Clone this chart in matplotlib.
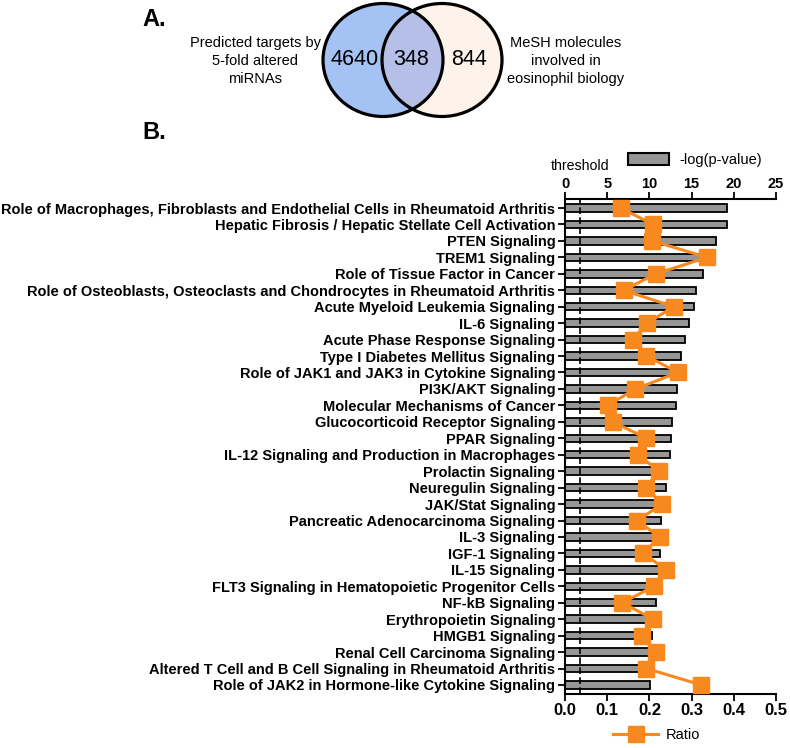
import matplotlib
matplotlib.use("Agg")
import numpy as np
import matplotlib.pyplot as plt
from matplotlib.patches import Ellipse, Patch
from matplotlib.lines import Line2D

plt.rcParams["font.family"] = ["Liberation Sans", "DejaVu Sans"]

# ---------------------------------------------------------------------------
# Data
# ---------------------------------------------------------------------------
VENN_COUNTS = [4640, 348, 844]
VENN_LABELS = ["Predicted targets by\n5-fold altered\nmiRNAs",
               "MeSH molecules\ninvolved in\neosinophil biology"]

PATHWAYS = [
    "Role of Macrophages, Fibroblasts and Endothelial Cells in Rheumatoid Arthritis",
    "Hepatic Fibrosis / Hepatic Stellate Cell Activation",
    "PTEN Signaling",
    "TREM1 Signaling",
    "Role of Tissue Factor in Cancer",
    "Role of Osteoblasts, Osteoclasts and Chondrocytes in Rheumatoid Arthritis",
    "Acute Myeloid Leukemia Signaling",
    "IL-6 Signaling",
    "Acute Phase Response Signaling",
    "Type I Diabetes Mellitus Signaling",
    "Role of JAK1 and JAK3 in Cytokine Signaling",
    "PI3K/AKT Signaling",
    "Molecular Mechanisms of Cancer",
    "Glucocorticoid Receptor Signaling",
    "PPAR Signaling",
    "IL-12 Signaling and Production in Macrophages",
    "Prolactin Signaling",
    "Neuregulin Signaling",
    "JAK/Stat Signaling",
    "Pancreatic Adenocarcinoma Signaling",
    "IL-3 Signaling",
    "IGF-1 Signaling",
    "IL-15 Signaling",
    "FLT3 Signaling in Hematopoietic Progenitor Cells",
    "NF-kB Signaling",
    "Erythropoietin Signaling",
    "HMGB1 Signaling",
    "Renal Cell Carcinoma Signaling",
    "Altered T Cell and B Cell Signaling in Rheumatoid Arthritis",
    "Role of JAK2 in Hormone-like Cytokine Signaling",
]

NEG_LOG_P = [19.2, 19.2, 17.9, 16.9, 16.3, 15.5, 15.3, 14.7, 14.25, 13.7,
             13.4, 13.3, 13.2, 12.7, 12.5, 12.4, 12.1, 12.0, 11.9, 11.4,
             11.3, 11.3, 11.1, 10.3, 10.75, 10.5, 10.35, 10.4, 10.4, 10.1]

RATIO = [0.132, 0.209, 0.207, 0.337, 0.215, 0.139, 0.258, 0.194, 0.160, 0.193,
         0.268, 0.167, 0.101, 0.113, 0.193, 0.173, 0.223, 0.191, 0.231, 0.171,
         0.224, 0.185, 0.240, 0.211, 0.136, 0.209, 0.183, 0.215, 0.193, 0.323]

THRESHOLD = 1.75

# Colours
C_LEFT = "#a4c2f4"
C_RIGHT = "#fdf3ea"
C_INTER = "#b5bfe8"
C_BAR = "#969696"
C_ORANGE = "#f7891f"

W, H = 790, 748

fig = plt.figure(figsize=(W / 100, H / 100), dpi=100)

# ---------------------------------------------------------------------------
# Panel A: Venn diagram (pixel coordinates)
# ---------------------------------------------------------------------------
va = fig.add_axes([0, 0, 1, 1])
va.set_xlim(0, W)
va.set_ylim(H, 0)
va.axis("off")

c_left, c_right = (383, 60), (442, 60)
ew, eh = 120, 113
va.add_patch(Ellipse(c_left, ew, eh, fc=C_LEFT, ec="none"))
right = Ellipse(c_right, ew, eh, fc=C_RIGHT, ec="none")
va.add_patch(right)
inter = Ellipse(c_left, ew, eh, fc=C_INTER, ec="none")
va.add_patch(inter)
inter.set_clip_path(right)
va.add_patch(Ellipse(c_left, ew, eh, fc="none", ec="black", lw=2.3))
va.add_patch(Ellipse(c_right, ew, eh, fc="none", ec="black", lw=2.3))

for xpos, n in zip([355, 411, 469], VENN_COUNTS):
    va.text(xpos, 59, str(n), ha="center", va="center", fontsize=15.5)
va.text(255, 61, VENN_LABELS[0], ha="center", va="center", fontsize=10.5,
        linespacing=1.32)
va.text(566, 61, VENN_LABELS[1], ha="center", va="center", fontsize=10.5,
        linespacing=1.32)

va.text(142, 19, "A.", ha="left", va="center", fontsize=17, fontweight="bold")
va.text(142, 132, "B.", ha="left", va="center", fontsize=17, fontweight="bold")

# ---------------------------------------------------------------------------
# Panel B: bars + ratio line
# ---------------------------------------------------------------------------
ax = fig.add_axes([565 / W, 1 - 694 / H, 211 / W, 495 / H])
ax2 = ax.twiny()

y = np.arange(len(PATHWAYS))
ax.barh(y, NEG_LOG_P, height=0.45, color=C_BAR, edgecolor="black",
        linewidth=1.3, zorder=2)
ax.axvline(THRESHOLD, color="black", ls=(0, (4, 2)), lw=1.2, zorder=3)
ax.set_xlim(0, 25)
ax.set_ylim(len(PATHWAYS) - 0.45, -0.55)
ax.set_xticks([0, 5, 10, 15, 20, 25])
ax.xaxis.tick_top()
ax.set_yticks(y)
ax.set_yticklabels(PATHWAYS, fontsize=10.5, fontweight="bold")
ax.tick_params(axis="x", labelsize=10.5, width=1.3, length=5, pad=1)
ax.tick_params(axis="y", width=1.3, length=5, pad=2)
for lab in ax.get_xticklabels():
    lab.set_fontweight("bold")
for s in ["right", "bottom"]:
    ax.spines[s].set_visible(False)
for s in ["left", "top"]:
    ax.spines[s].set_linewidth(1.5)
ax.text(THRESHOLD, -2.55, "threshold", ha="center", va="center", fontsize=10.2)

ax2.plot(RATIO, y, color=C_ORANGE, marker="s", ms=11, lw=2.2, zorder=4)
ax2.set_xlim(0, 0.5)
ax2.set_xticks([0.0, 0.1, 0.2, 0.3, 0.4, 0.5])
ax2.xaxis.tick_bottom()
ax2.xaxis.set_label_position("bottom")
ax2.tick_params(axis="x", labelsize=12, width=1.3, length=5, pad=1.5)
for lab in ax2.get_xticklabels():
    lab.set_fontweight("bold")
for s in ["right", "top", "left"]:
    ax2.spines[s].set_visible(False)
ax2.spines["bottom"].set_visible(True)
ax2.spines["bottom"].set_linewidth(1.5)

# Legends
fig.legend(handles=[Patch(fc=C_BAR, ec="black", lw=1.5)],
           labels=["-log(p-value)"], loc="center left",
           bbox_to_anchor=(615 / W, 1 - 160 / H), frameon=False,
           handlelength=2.8, handleheight=0.9, handletextpad=0.7,
           fontsize=10.5)
fig.legend(handles=[Line2D([], [], color=C_ORANGE, marker="s", ms=11, lw=2.2)],
           labels=["Ratio"], loc="center left",
           bbox_to_anchor=(600 / W, 1 - 735 / H), frameon=False,
           handlelength=3.1, handletextpad=0.5, fontsize=10.5)

fig.savefig("out.png", dpi=100)
